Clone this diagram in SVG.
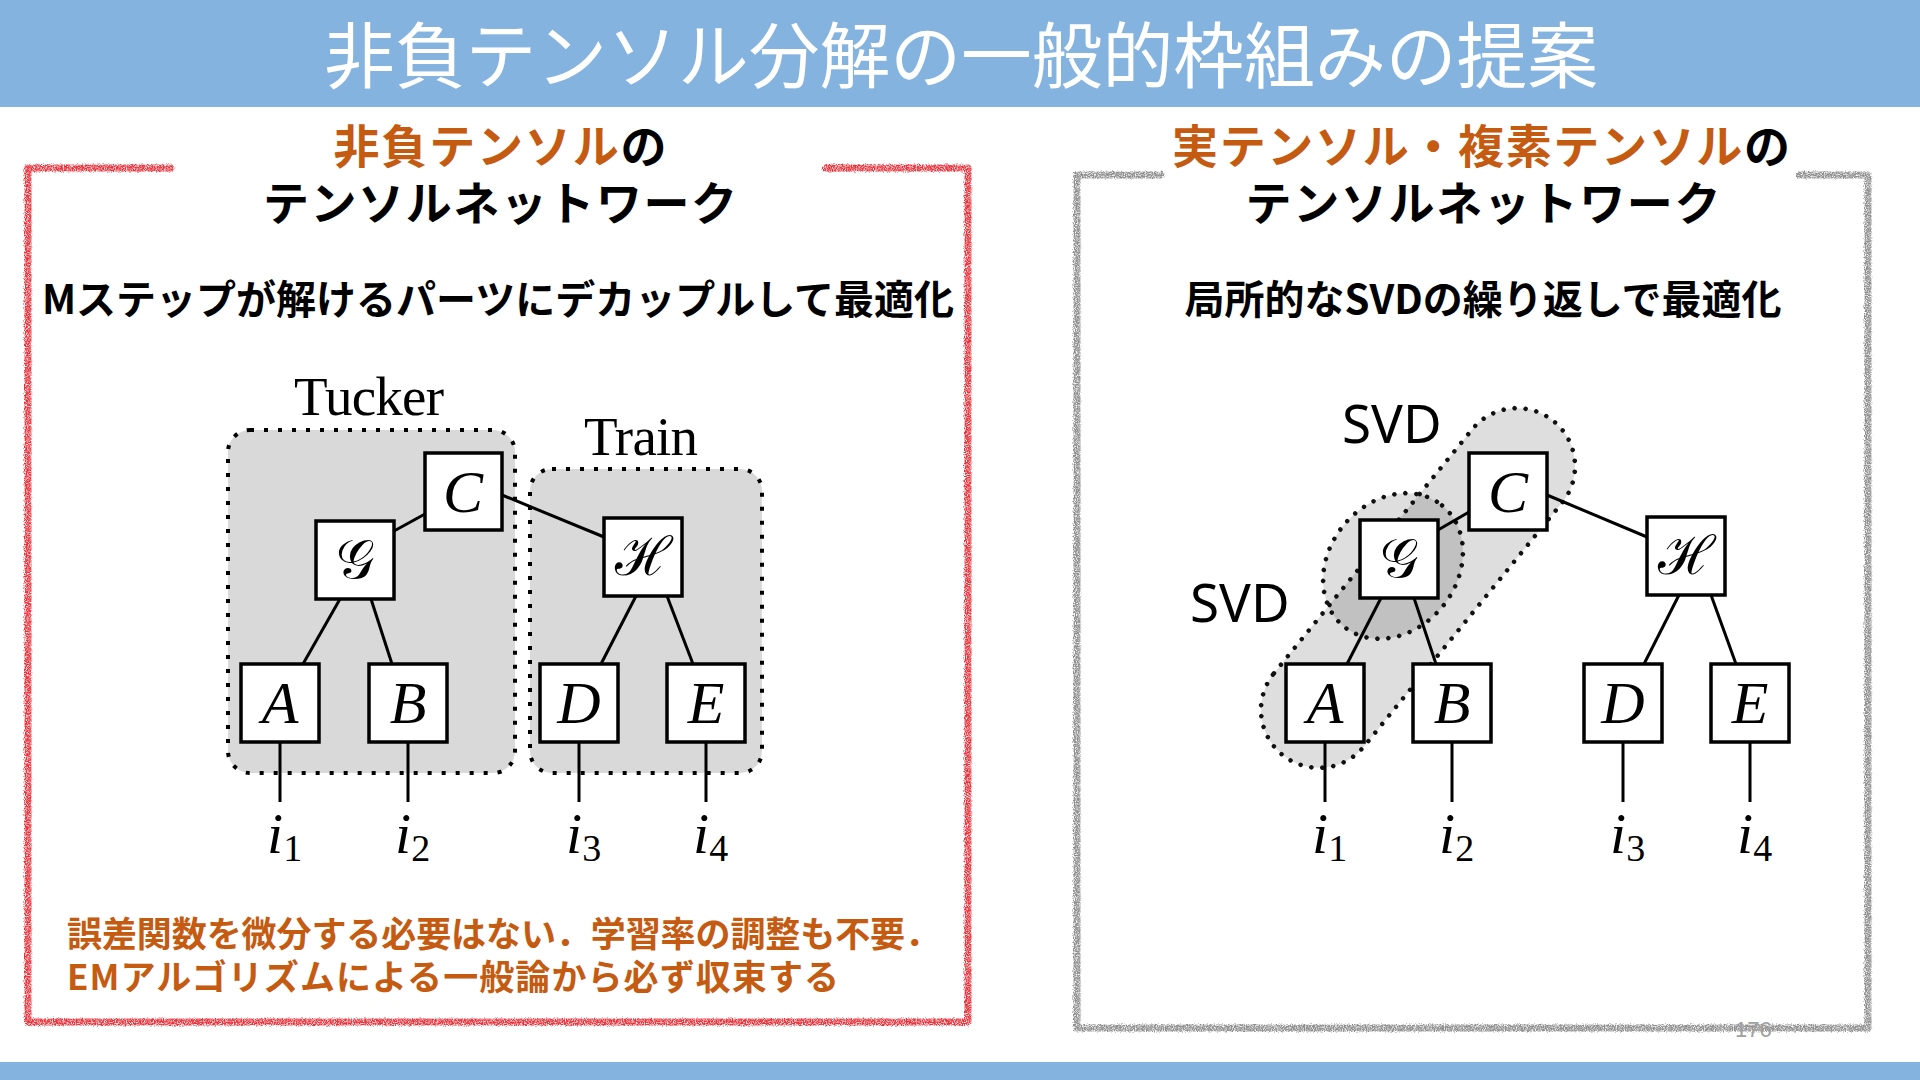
<svg xmlns="http://www.w3.org/2000/svg" width="1920" height="1080" viewBox="0 0 1920 1080">
<defs>
<style>
.jp{font-family:"Noto Sans CJK JP","Noto Sans",sans-serif}
.title{font-size:72px;fill:#fff;font-weight:400;text-anchor:middle}
.hd{font-size:46px;font-weight:700;text-anchor:middle;fill:#000}
.or{fill:#C55A11}
.sub{font-size:40px;font-weight:700;text-anchor:middle;fill:#000}
.note{font-size:35px;font-weight:700;fill:#C55A11}
.box{fill:#fff;stroke:#000;stroke-width:3.5}
.lbl{font-family:"Liberation Serif","DejaVu Serif",serif;font-style:italic;font-size:60px;text-anchor:middle}
.cal{font-family:"DejaVu Serif","Liberation Serif",serif;font-size:54px;text-anchor:middle}
.edge{stroke:#000;stroke-width:3;fill:none}
.grp{fill:#d9d9d9}
.dots{fill:none;stroke:#000;stroke-width:4;stroke-dasharray:4 10}
.shade{fill:#000;fill-opacity:0.13}
.dots2{fill:none;stroke:#111;stroke-width:4.5;stroke-linecap:round;stroke-dasharray:0 11}
.idx{font-family:"Liberation Serif","DejaVu Serif",serif;font-size:58px}
.svd{font-family:"Noto Sans","DejaVu Sans",sans-serif;font-size:53px}
.cap{font-family:"Liberation Serif","DejaVu Serif",serif;font-size:55px}
.bar{fill:#85b3df}
.frame{fill:none;stroke-width:7;stroke-linejoin:round;stroke-linecap:round}
</style>
<filter id="crayon" filterUnits="userSpaceOnUse" x="0" y="0" width="1920" height="1080">
<feTurbulence type="fractalNoise" baseFrequency="0.9" numOctaves="2" seed="3" result="noise"/>
<feDisplacementMap in="SourceGraphic" in2="noise" scale="4" xChannelSelector="R" yChannelSelector="G" result="disp"/>
<feColorMatrix in="noise" type="matrix" values="0 0 0 0 0  0 0 0 0 0  0 0 0 0 0  2.6 0 0 0 -0.55" result="mask"/>
<feComposite in="disp" in2="mask" operator="in"/>
</filter>
</defs>
<rect width="1920" height="1080" fill="#fff"/>
<g id="header">
<rect class="bar" x="0" y="0" width="1920" height="107"/>
<text class="jp title" x="961" y="82" textLength="1274" lengthAdjust="spacingAndGlyphs">非負テンソル分解の一般的枠組みの提案</text>
</g>
<rect class="bar" x="0" y="1062" width="1920" height="18"/>

<g id="frames" filter="url(#crayon)">
<path class="frame" stroke="#e8333a" d="M171,168 H28 V1022 H968 V168 H826"/>
<path class="frame" stroke="#8e8e8e" d="M1161,175 H1077 V1028 H1868 V175 H1800"/>
</g>

<g id="left-headings">
<text class="jp hd" x="500" y="163" textLength="333"><tspan class="or">非負テンソル</tspan>の</text>
<text class="jp hd" x="500" y="220" textLength="474">テンソルネットワーク</text>
<text class="jp sub" x="498" y="314">Mステップが解けるパーツにデカップルして最適化</text>
</g>
<g id="right-headings">
<text class="jp hd" x="1481" y="163" textLength="618"><tspan class="or">実テンソル・複素テンソル</tspan>の</text>
<text class="jp hd" x="1483" y="220" textLength="475">テンソルネットワーク</text>
<text class="jp sub" x="1483" y="314">局所的なSVDの繰り返しで最適化</text>
</g>

<g id="groups-left">
<rect class="grp" x="228" y="430" width="287" height="343" rx="22"/>
<rect class="dots" x="228" y="430" width="287" height="343" rx="22"/>
<rect class="grp" x="530" y="469" width="232" height="304" rx="22"/>
<rect class="dots" x="530" y="469" width="232" height="304" rx="22"/>
<text class="cap" x="294" y="415" textLength="150">Tucker</text>
<text class="cap" x="584" y="455" textLength="114">Train</text>
</g>

<g id="groups-right">
<rect class="shade" x="-215" y="-58" width="430" height="116" rx="58" transform="translate(1418 588) rotate(-50.9)"/>
<ellipse class="shade" cx="0" cy="0" rx="78" ry="64" transform="translate(1393 566) rotate(-51)"/>
<rect class="dots2" x="-215" y="-58" width="430" height="116" rx="58" transform="translate(1418 588) rotate(-50.9)"/>
<ellipse class="dots2" cx="0" cy="0" rx="78" ry="64" transform="translate(1393 566) rotate(-51)"/>
<text class="svd" x="1342" y="443">SVD</text>
<text class="svd" x="1190" y="622">SVD</text>
</g>

<g id="connectors">
<path class="edge" d="M425,514 L394,531"/>
<path class="edge" d="M502,495 L604,537"/>
<path class="edge" d="M340,599 L303,664"/>
<path class="edge" d="M371,599 L392,664"/>
<path class="edge" d="M636,596 L601,664"/>
<path class="edge" d="M667,596 L693,664"/>
<path class="edge" d="M280,742 V802 M408,742 V802 M579,742 V802 M706,742 V802"/>
<path class="edge" d="M1469,512 L1438,530"/>
<path class="edge" d="M1547,495 L1647,537"/>
<path class="edge" d="M1381,598 L1347,664"/>
<path class="edge" d="M1414,598 L1436,664"/>
<path class="edge" d="M1679,595 L1644,664"/>
<path class="edge" d="M1711,595 L1736,664"/>
<path class="edge" d="M1325,742 V802 M1452,742 V802 M1623,742 V802 M1750,742 V802"/>
</g>

<g id="L-C"><rect class="box" x="425" y="453" width="77" height="77"/><text class="lbl" x="463" y="512">C</text></g>
<g id="L-G"><rect class="box" x="316" y="521" width="78" height="78"/><text class="cal" x="355" y="578">𝒢</text></g>
<g id="L-H"><rect class="box" x="604" y="518" width="78" height="78"/><text class="cal" x="643" y="575">ℋ</text></g>
<g id="L-A"><rect class="box" x="241" y="664" width="78" height="78"/><text class="lbl" x="280" y="723">A</text></g>
<g id="L-B"><rect class="box" x="369" y="664" width="78" height="78"/><text class="lbl" x="408" y="723">B</text></g>
<g id="L-D"><rect class="box" x="540" y="664" width="78" height="78"/><text class="lbl" x="579" y="723">D</text></g>
<g id="L-E"><rect class="box" x="667" y="664" width="78" height="78"/><text class="lbl" x="706" y="723">E</text></g>

<g id="R-C"><rect class="box" x="1469" y="453" width="78" height="77"/><text class="lbl" x="1508" y="512">C</text></g>
<g id="R-G"><rect class="box" x="1360" y="520" width="78" height="78"/><text class="cal" x="1399" y="577">𝒢</text></g>
<g id="R-H"><rect class="box" x="1647" y="517" width="78" height="78"/><text class="cal" x="1686" y="574">ℋ</text></g>
<g id="R-A"><rect class="box" x="1286" y="664" width="78" height="78"/><text class="lbl" x="1325" y="723">A</text></g>
<g id="R-B"><rect class="box" x="1413" y="664" width="78" height="78"/><text class="lbl" x="1452" y="723">B</text></g>
<g id="R-D"><rect class="box" x="1584" y="664" width="78" height="78"/><text class="lbl" x="1623" y="723">D</text></g>
<g id="R-E"><rect class="box" x="1711" y="664" width="78" height="78"/><text class="lbl" x="1750" y="723">E</text></g>

<g id="indices">
<text class="idx" x="267" y="853"><tspan font-style="italic">i</tspan><tspan font-size="38" dy="8">1</tspan></text>
<text class="idx" x="395" y="853"><tspan font-style="italic">i</tspan><tspan font-size="38" dy="8">2</tspan></text>
<text class="idx" x="566" y="853"><tspan font-style="italic">i</tspan><tspan font-size="38" dy="8">3</tspan></text>
<text class="idx" x="693" y="853"><tspan font-style="italic">i</tspan><tspan font-size="38" dy="8">4</tspan></text>
<text class="idx" x="1312" y="853"><tspan font-style="italic">i</tspan><tspan font-size="38" dy="8">1</tspan></text>
<text class="idx" x="1439" y="853"><tspan font-style="italic">i</tspan><tspan font-size="38" dy="8">2</tspan></text>
<text class="idx" x="1610" y="853"><tspan font-style="italic">i</tspan><tspan font-size="38" dy="8">3</tspan></text>
<text class="idx" x="1737" y="853"><tspan font-style="italic">i</tspan><tspan font-size="38" dy="8">4</tspan></text>
</g>

<g id="note">
<text class="jp note" x="67" y="947" textLength="873">誤差関数を微分する必要はない．学習率の調整も不要．</text>
<text class="jp note" x="67" y="990" textLength="772">EMアルゴリズムによる一般論から必ず収束する</text>
</g>
<text x="1735" y="1037" font-family="Liberation Sans, sans-serif" font-size="22" fill="#a0a0a0">176</text>
</svg>
